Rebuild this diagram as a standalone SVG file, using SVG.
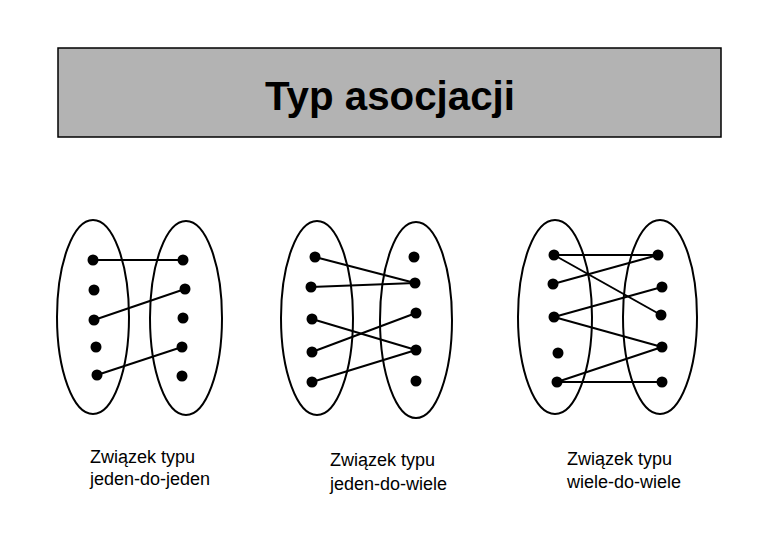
<svg xmlns="http://www.w3.org/2000/svg" width="780" height="540" viewBox="0 0 780 540">
<style>
.ell{fill:none;stroke:#000;stroke-width:2}
.dot{fill:#000}
.ln{stroke:#000;stroke-width:2;fill:none}
.lbl{font-family:"Liberation Sans",Arial,sans-serif;font-size:18px;fill:#000}
.title{font-family:"Liberation Sans",Arial,sans-serif;font-size:40px;font-weight:bold;fill:#000}
</style>
<rect width="780" height="540" fill="#fff"/>
<g id="title">
<rect x="58" y="48" width="663" height="89" fill="#b3b3b3" stroke="#000" stroke-width="1.5"/>
<text class="title" x="390" y="110" text-anchor="middle" textLength="250" lengthAdjust="spacingAndGlyphs">Typ asocjacji</text>
</g>
<g id="connectors">
<line class="ln" x1="93" y1="260" x2="183" y2="260"/>
<line class="ln" x1="94" y1="320" x2="185" y2="289"/>
<line class="ln" x1="97" y1="375" x2="182" y2="347"/>
<line class="ln" x1="315" y1="257" x2="415" y2="283"/>
<line class="ln" x1="311" y1="287" x2="415" y2="283"/>
<line class="ln" x1="312" y1="319" x2="416" y2="350"/>
<line class="ln" x1="312" y1="352" x2="416" y2="313"/>
<line class="ln" x1="312" y1="382" x2="416" y2="350"/>
<line class="ln" x1="554" y1="255" x2="658" y2="255"/>
<line class="ln" x1="554" y1="255" x2="661" y2="315"/>
<line class="ln" x1="553" y1="284" x2="658" y2="255"/>
<line class="ln" x1="554" y1="317" x2="662" y2="287"/>
<line class="ln" x1="554" y1="317" x2="662" y2="347"/>
<line class="ln" x1="557" y1="382" x2="662" y2="347"/>
<line class="ln" x1="557" y1="382" x2="662" y2="382"/>
</g>
<g id="one-to-one">
<ellipse class="ell" cx="93" cy="317" rx="36" ry="97"/>
<ellipse class="ell" cx="186" cy="318" rx="36" ry="97"/>
<circle class="dot" cx="93" cy="260" r="5.5"/>
<circle class="dot" cx="94" cy="290" r="5.5"/>
<circle class="dot" cx="94" cy="320" r="5.5"/>
<circle class="dot" cx="96" cy="347" r="5.5"/>
<circle class="dot" cx="97" cy="375" r="5.5"/>
<circle class="dot" cx="183" cy="260" r="5.5"/>
<circle class="dot" cx="185" cy="289" r="5.5"/>
<circle class="dot" cx="183" cy="318" r="5.5"/>
<circle class="dot" cx="182" cy="347" r="5.5"/>
<circle class="dot" cx="182" cy="376" r="5.5"/>
<text class="lbl" x="90" y="463">Związek typu</text>
<text class="lbl" x="90" y="485">jeden-do-jeden</text>
</g>
<g id="one-to-many">
<ellipse class="ell" cx="317" cy="318" rx="36" ry="97"/>
<ellipse class="ell" cx="416" cy="320" rx="36" ry="98"/>
<circle class="dot" cx="315" cy="257" r="5.5"/>
<circle class="dot" cx="311" cy="287" r="5.5"/>
<circle class="dot" cx="312" cy="319" r="5.5"/>
<circle class="dot" cx="312" cy="352" r="5.5"/>
<circle class="dot" cx="312" cy="382" r="5.5"/>
<circle class="dot" cx="414" cy="257" r="5.5"/>
<circle class="dot" cx="415" cy="283" r="5.5"/>
<circle class="dot" cx="416" cy="313" r="5.5"/>
<circle class="dot" cx="416" cy="350" r="5.5"/>
<circle class="dot" cx="416" cy="381" r="5.5"/>
<text class="lbl" x="330" y="466">Związek typu</text>
<text class="lbl" x="330" y="490">jeden-do-wiele</text>
</g>
<g id="many-to-many">
<ellipse class="ell" cx="555" cy="317" rx="37" ry="97"/>
<ellipse class="ell" cx="660" cy="317" rx="37" ry="97"/>
<circle class="dot" cx="554" cy="255" r="5.5"/>
<circle class="dot" cx="553" cy="284" r="5.5"/>
<circle class="dot" cx="554" cy="317" r="5.5"/>
<circle class="dot" cx="558" cy="353" r="5.5"/>
<circle class="dot" cx="557" cy="382" r="5.5"/>
<circle class="dot" cx="658" cy="255" r="5.5"/>
<circle class="dot" cx="662" cy="287" r="5.5"/>
<circle class="dot" cx="661" cy="315" r="5.5"/>
<circle class="dot" cx="662" cy="347" r="5.5"/>
<circle class="dot" cx="662" cy="382" r="5.5"/>
<text class="lbl" x="567" y="465">Związek typu</text>
<text class="lbl" x="567" y="488">wiele-do-wiele</text>
</g>
</svg>
